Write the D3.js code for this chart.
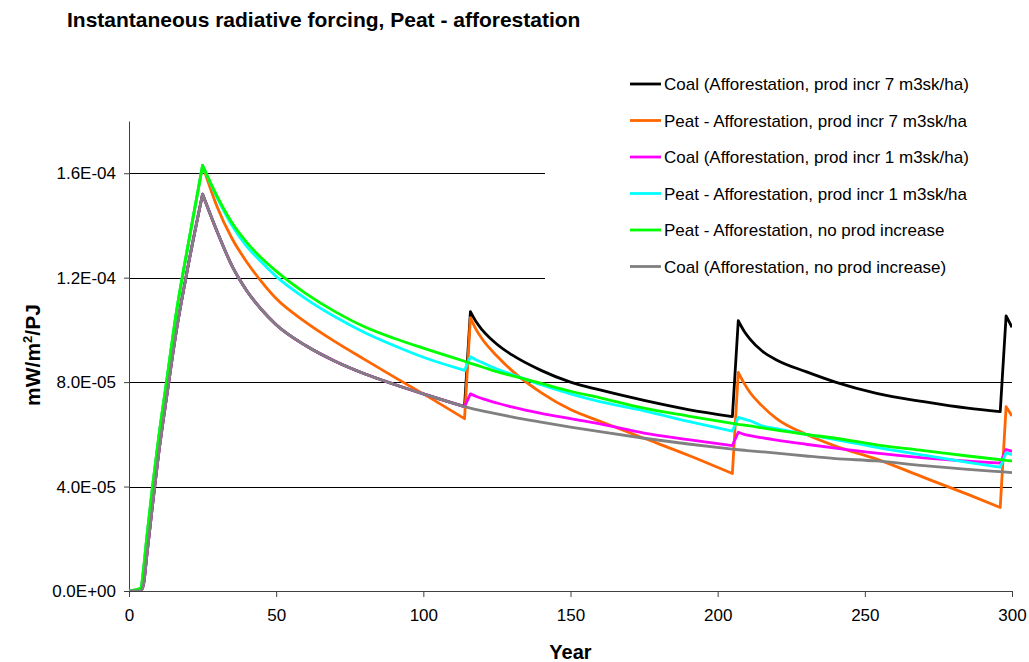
<!DOCTYPE html>
<html>
<head>
<meta charset="utf-8">
<script src="https://cdnjs.cloudflare.com/ajax/libs/d3/7.8.5/d3.min.js"></script>
<style>
  body { margin: 0; background: #fff; }
  text { font-family: "Liberation Sans", Arial, sans-serif; }
</style>
</head>
<body>
<script>
// years shared by every series
const years = [0,4,5,6,8,10,13,16,20,25,30,35,40,45,50,60,70,80,90,100,114,116,118,120,125,130,140,150,160,175,190,205,207,209,211,215,220,230,240,254,270,285,296,298,300];
// years where the curves have a peak or a jump
const breakYears = [25, 114, 116, 205, 207, 296, 298];

// values, in units of 1E-05 mW/m2/PJ
const coal7 = [0,0,0.3,1.3,3.3,5.2,7.6,9.9,12.4,15.2,13.75,12.45,11.5,10.78,10.2,9.4,8.8,8.32,7.92,7.55,7.06,10.7,10.3,10.0,9.45,9.05,8.45,8.0,7.7,7.3,6.95,6.68,10.35,9.95,9.65,9.2,8.85,8.4,8.0,7.57,7.25,7.0,6.87,10.54,10.1];
const peat7 = [0,0.1,0.9,2.0,4.0,5.8,8.2,10.6,13.2,16.3,14.7,13.5,12.6,11.85,11.2,10.3,9.55,8.87,8.2,7.55,6.6,10.47,10.0,9.65,9.0,8.45,7.6,6.95,6.5,5.85,5.2,4.5,8.37,7.95,7.6,7.1,6.6,6.0,5.55,5.05,4.35,3.7,3.2,7.06,6.7];
const coal1 = [0,0,0.3,1.3,3.3,5.2,7.6,9.9,12.4,15.2,13.75,12.45,11.5,10.78,10.2,9.4,8.8,8.32,7.92,7.55,7.06,7.55,7.45,7.37,7.2,7.05,6.8,6.6,6.4,6.05,5.8,5.57,6.08,6.0,5.95,5.87,5.78,5.62,5.47,5.28,5.1,4.97,4.9,5.42,5.35];
const peat1 = [0,0.1,0.9,2.0,4.0,5.8,8.2,10.6,13.2,16.3,15.05,14.0,13.2,12.6,12.05,11.2,10.5,9.9,9.4,8.95,8.45,8.97,8.85,8.75,8.5,8.3,7.9,7.55,7.25,6.9,6.5,6.12,6.65,6.58,6.52,6.33,6.22,6.0,5.8,5.5,5.2,4.93,4.74,5.3,5.22];
const peatNo = [0,0.1,0.9,2.0,4.0,5.8,8.2,10.6,13.2,16.3,15.1,14.1,13.35,12.75,12.25,11.4,10.7,10.12,9.68,9.3,8.8,8.72,8.65,8.58,8.4,8.25,7.95,7.65,7.4,7.0,6.7,6.42,6.38,6.35,6.32,6.25,6.16,6.0,5.85,5.6,5.38,5.17,5.03,5.0,4.98];
const coalNo = [0,0,0.3,1.3,3.3,5.2,7.6,9.9,12.4,15.2,13.75,12.45,11.5,10.78,10.2,9.4,8.8,8.32,7.92,7.55,7.06,7.0,6.95,6.9,6.78,6.67,6.47,6.28,6.1,5.85,5.63,5.43,5.41,5.39,5.37,5.33,5.28,5.17,5.07,4.98,4.8,4.66,4.57,4.55,4.53];

const seriesNames = [
  "Coal (Afforestation, prod incr 7 m3sk/ha)",
  "Peat - Afforestation, prod incr 7 m3sk/ha",
  "Coal (Afforestation, prod incr 1 m3sk/ha)",
  "Peat - Afforestation, prod incr 1 m3sk/ha",
  "Peat - Afforestation, no prod increase",
  "Coal (Afforestation, no prod increase)"
];
const seriesColors = ["#000000", "#ff6600", "#ff00ff", "#00ffff", "#00ff00", "#808080"];
const seriesValues = [coal7, peat7, coal1, peat1, peatNo, coalNo];

const yTicks = [0, 4e-5, 8e-5, 1.2e-4, 1.6e-4];
const yTickLabels = ["0.0E+00", "4.0E-05", "8.0E-05", "1.2E-04", "1.6E-04"];
const xTicks = [0, 50, 100, 150, 200, 250, 300];

const W = 1029, H = 662;
const margin = {top: 121, right: 17, bottom: 71, left: 129};
const width = W - margin.left - margin.right;
const height = H - margin.top - margin.bottom;

const svg = d3.select("body").append("svg")
  .attr("width", W)
  .attr("height", H);

// title
svg.append("text")
  .attr("x", 67)
  .attr("y", 27)
  .attr("font-size", "21px")
  .attr("font-weight", "bold")
  .text("Instantaneous radiative forcing, Peat - afforestation");

const g = svg.append("g")
  .attr("transform", "translate(" + margin.left + "," + margin.top + ")");

const x = d3.scaleLinear().domain([0, 300]).range([0, width]);
const y = d3.scaleLinear().domain([0, 1.8e-4]).range([height, 0]);

// gridlines
g.selectAll("line.grid")
  .data(yTicks.slice(1))
  .enter().append("line")
  .attr("class", "grid")
  .attr("x1", 0).attr("x2", width)
  .attr("y1", d => Math.round(y(d)) + 0.5)
  .attr("y2", d => Math.round(y(d)) + 0.5)
  .attr("stroke", "#000")
  .attr("stroke-width", 1);

// axes
const yAxis = g.append("g")
  .call(d3.axisLeft(y).tickValues(yTicks).tickSize(5).tickSizeOuter(0)
    .tickFormat((d, i) => yTickLabels[i]));
const xAxis = g.append("g")
  .attr("transform", "translate(0," + height + ")")
  .call(d3.axisBottom(x).tickValues(xTicks).tickSize(6).tickSizeOuter(0));

[yAxis, xAxis].forEach(a => {
  a.select(".domain").attr("stroke", "#404040");
  a.selectAll(".tick line").attr("stroke", "#404040");
  a.selectAll(".tick text")
    .attr("font-family", "'Liberation Sans', Arial, sans-serif")
    .attr("font-size", "17px")
    .attr("fill", "#000");
});
yAxis.selectAll(".tick text").attr("x", -13);
xAxis.selectAll(".tick text").attr("y", 18);

// legend box (covers the gridlines on the upper right)
const legend = svg.append("g");
legend.append("rect")
  .attr("x", 545).attr("y", 60)
  .attr("width", W - 545).attr("height", 226)
  .attr("fill", "#fff");

// clip
svg.append("defs").append("clipPath").attr("id", "plotclip")
  .append("rect").attr("x", 0).attr("y", -5).attr("width", width).attr("height", height + 5);

const line = d3.line()
  .curve(d3.curveMonotoneX)
  .x(d => x(d[0]))
  .y(d => y(d[1] * 1e-5));

// smooth between breaks, keep the peaks and jumps sharp
function seriesPath(vals) {
  const pts = years.map((yr, i) => [yr, vals[i]]);
  const cuts = [0, ...breakYears.map(b => years.indexOf(b)), years.length - 1];
  let d = "";
  for (let k = 0; k < cuts.length - 1; k++) {
    const seg = line(pts.slice(cuts[k], cuts[k + 1] + 1));
    d += k === 0 ? seg : seg.replace(/^M/, "L");
  }
  return d;
}

g.append("g").attr("clip-path", "url(#plotclip)")
  .selectAll("path.series")
  .data(seriesValues)
  .enter().append("path")
  .attr("class", "series")
  .attr("d", seriesPath)
  .attr("fill", "none")
  .attr("stroke", (d, i) => seriesColors[i])
  .attr("stroke-width", 2.8)
  .attr("stroke-linejoin", "round");

seriesNames.forEach((name, i) => {
  const ly = 84 + i * 36.5;
  legend.append("line")
    .attr("x1", 630).attr("x2", 661)
    .attr("y1", ly).attr("y2", ly)
    .attr("stroke", seriesColors[i])
    .attr("stroke-width", 2.8);
  legend.append("text")
    .attr("x", 664).attr("y", ly + 6)
    .attr("font-size", "17px")
    .text(name);
});

// axis titles
svg.append("text")
  .attr("x", margin.left + width / 2)
  .attr("y", 659)
  .attr("text-anchor", "middle")
  .attr("font-size", "20px")
  .attr("font-weight", "bold")
  .text("Year");

const yl = svg.append("text")
  .attr("transform", "translate(40,355) rotate(-90)")
  .attr("text-anchor", "middle")
  .attr("font-size", "21px")
  .attr("font-weight", "bold");
yl.append("tspan").text("mW/m");
yl.append("tspan").attr("font-size", "13px").attr("dy", -8).text("2");
yl.append("tspan").attr("dy", 8).text("/PJ");
</script>
</body>
</html>
